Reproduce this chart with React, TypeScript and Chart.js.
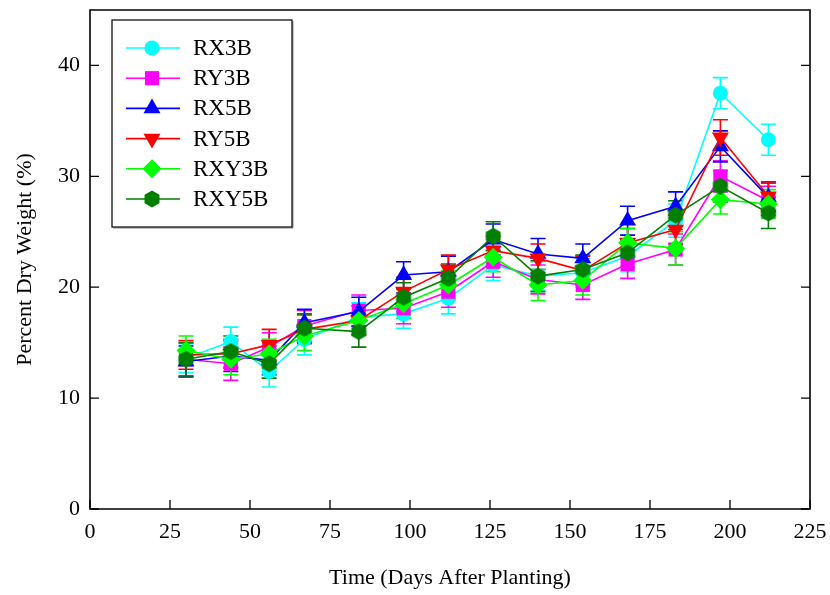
import React, { useEffect, useRef } from "react";
import { Chart, registerables } from "chart.js";

Chart.register(...registerables);

const days = [30, 44, 56, 67, 84, 98, 112, 126, 140, 154, 168, 183, 197, 212];

const rx3b = [13.6, 15.1, 12.4, 15.3, 17.3, 17.6, 19.0, 22.0, 21.0, 21.3, 22.8, 26.0, 37.5, 33.3];
const rx3bErr = [1.3, 1.3, 1.4, 1.4, 1.3, 1.3, 1.4, 1.4, 1.3, 1.3, 1.4, 1.5, 1.4, 1.4];

const ry3b = [13.5, 13.1, 14.6, 16.5, 17.9, 18.1, 19.6, 22.3, 20.7, 20.2, 22.1, 23.4, 30.0, 27.8];
const ry3bErr = [1.5, 1.5, 1.3, 1.4, 1.4, 1.4, 1.4, 1.4, 1.3, 1.3, 1.3, 1.4, 1.4, 1.3];

const rx5b = [13.3, 13.8, 13.4, 16.8, 17.8, 21.1, 21.4, 24.3, 23.0, 22.6, 26.0, 27.3, 32.7, 28.1];
const rx5bErr = [1.4, 1.4, 1.3, 1.2, 1.3, 1.2, 1.4, 1.4, 1.4, 1.3, 1.3, 1.3, 1.4, 1.3];

const ry5b = [13.9, 14.0, 14.8, 16.2, 17.0, 19.6, 21.6, 23.3, 22.6, 21.5, 24.0, 25.2, 33.5, 28.2];
const ry5bErr = [1.3, 1.3, 1.4, 1.3, 1.3, 1.3, 1.3, 1.3, 1.3, 1.3, 1.3, 1.3, 1.6, 1.3];

const rxy3b = [14.3, 13.5, 14.0, 15.6, 17.0, 18.5, 20.2, 22.7, 20.2, 20.6, 24.0, 23.5, 27.9, 27.5];
const rxy3bErr = [1.3, 1.4, 1.3, 1.3, 1.3, 1.3, 1.3, 1.3, 1.4, 1.3, 1.3, 1.5, 1.3, 1.3];

const rxy5b = [13.5, 14.2, 13.1, 16.3, 16.0, 19.1, 20.8, 24.6, 21.0, 21.6, 23.1, 26.5, 29.1, 26.7];
const rxy5bErr = [1.5, 1.4, 1.3, 1.3, 1.4, 1.3, 1.3, 1.3, 1.4, 1.3, 1.3, 1.3, 1.4, 1.4];

const seriesNames = ["RX3B", "RY3B", "RX5B", "RY5B", "RXY3B", "RXY5B"];
const seriesValues = [rx3b, ry3b, rx5b, ry5b, rxy3b, rxy5b];
const seriesErrors = [rx3bErr, ry3bErr, rx5bErr, ry5bErr, rxy3bErr, rxy5bErr];
const seriesColors = ["#00FFFF", "#FF00FF", "#0000FF", "#FF0000", "#00FF00", "#007F00"];
const seriesMarkers = ["circle", "rect", "triangle", "triangleDown", "rectRot", "hexagon"];

const xTicks = [0, 25, 50, 75, 100, 125, 150, 175, 200, 225];
const yTicks = [0, 10, 20, 30, 40];

const FONT = "'Liberation Serif', 'Times New Roman', serif";

function makeHexagon(color: string): HTMLCanvasElement {
  const c = document.createElement("canvas");
  c.width = 18;
  c.height = 18;
  const ctx = c.getContext("2d")!;
  const r = 8.6;
  ctx.beginPath();
  for (let i = 0; i < 6; i++) {
    const a = -Math.PI / 2 + (i * Math.PI) / 3;
    const px = 9 + r * Math.cos(a);
    const py = 9 + r * Math.sin(a);
    if (i === 0) ctx.moveTo(px, py);
    else ctx.lineTo(px, py);
  }
  ctx.closePath();
  ctx.fillStyle = color;
  ctx.fill();
  return c;
}

function markerProps(kind: string, color: string) {
  switch (kind) {
    case "circle":
      return { pointStyle: "circle", pointRadius: 7.5, pointRotation: 0 };
    case "rect":
      return { pointStyle: "rect", pointRadius: 10, pointRotation: 0 };
    case "triangle":
      return { pointStyle: "triangle", pointRadius: 9.8, pointRotation: 0 };
    case "triangleDown":
      return { pointStyle: "triangle", pointRadius: 9.8, pointRotation: 180 };
    case "rectRot":
      return { pointStyle: "rectRot", pointRadius: 9.5, pointRotation: 0 };
    default:
      return { pointStyle: makeHexagon(color), pointRadius: 8.6, pointRotation: 0 };
  }
}

function drawLegendMarker(ctx: CanvasRenderingContext2D, kind: string, x: number, y: number, color: string, img: any) {
  ctx.save();
  ctx.fillStyle = color;
  ctx.beginPath();
  if (kind === "circle") {
    ctx.arc(x, y, 7.5, 0, Math.PI * 2);
  } else if (kind === "rect") {
    const s = 7.07;
    ctx.rect(x - s, y - s, 2 * s, 2 * s);
  } else if (kind === "triangle" || kind === "triangleDown") {
    const r = 9.8;
    const dir = kind === "triangle" ? 1 : -1;
    ctx.moveTo(x, y - dir * r);
    ctx.lineTo(x + r * Math.sin((2 * Math.PI) / 3), y - dir * r * Math.cos((2 * Math.PI) / 3));
    ctx.lineTo(x - r * Math.sin((2 * Math.PI) / 3), y - dir * r * Math.cos((2 * Math.PI) / 3));
    ctx.closePath();
  } else if (kind === "rectRot") {
    const r = 9.5;
    ctx.moveTo(x, y - r);
    ctx.lineTo(x + r, y);
    ctx.lineTo(x, y + r);
    ctx.lineTo(x - r, y);
    ctx.closePath();
  } else if (img) {
    ctx.drawImage(img, x - img.width / 2, y - img.height / 2);
    ctx.restore();
    return;
  }
  ctx.fill();
  ctx.restore();
}

const errorBarPlugin = {
  id: "errorBars",
  beforeDatasetsDraw(chart: any) {
    const ctx = chart.ctx;
    const xs = chart.scales.x;
    const ys = chart.scales.y;
    const n = chart.data.datasets.length;
    for (let d = 0; d < n; d++) {
      const ds = chart.data.datasets[d];
      const errs = ds.errors as number[];
      ctx.save();
      ctx.strokeStyle = ds.borderColor;
      ctx.lineWidth = 1.6;
      ds.data.forEach((p: any, i: number) => {
        const x = xs.getPixelForValue(p.x);
        const yt = ys.getPixelForValue(p.y + errs[i]);
        const yb = ys.getPixelForValue(p.y - errs[i]);
        ctx.beginPath();
        ctx.moveTo(x, yt);
        ctx.lineTo(x, yb);
        ctx.moveTo(x - 7.5, yt);
        ctx.lineTo(x + 7.5, yt);
        ctx.moveTo(x - 7.5, yb);
        ctx.lineTo(x + 7.5, yb);
        ctx.stroke();
      });
      ctx.restore();
    }
  },
};

const framePlugin = {
  id: "frameTicks",
  afterDatasetsDraw(chart: any) {
    const ctx = chart.ctx;
    const { left, right, top, bottom } = chart.chartArea;
    const xs = chart.scales.x;
    const ys = chart.scales.y;
    ctx.save();
    ctx.strokeStyle = "#000";
    ctx.lineWidth = 1.6;
    ctx.beginPath();
    ctx.rect(left, top, right - left, bottom - top);
    ctx.stroke();
    ctx.lineWidth = 1.3;
    ctx.beginPath();
    xTicks.forEach((v) => {
      const x = xs.getPixelForValue(v);
      ctx.moveTo(x, bottom);
      ctx.lineTo(x, bottom - 9);
    });
    yTicks.forEach((v) => {
      const y = ys.getPixelForValue(v);
      ctx.moveTo(left, y);
      ctx.lineTo(left + 9, y);
      ctx.moveTo(right, y);
      ctx.lineTo(right - 9, y);
    });
    ctx.stroke();
    ctx.restore();
  },
  afterDraw(chart: any) {
    const ctx = chart.ctx;
    const bx = 112, by = 20, bw = 180, bh = 207;
    ctx.save();
    ctx.fillStyle = "#fff";
    ctx.fillRect(bx, by, bw, bh);
    ctx.strokeStyle = "#888";
    ctx.lineWidth = 1;
    ctx.beginPath();
    ctx.moveTo(bx + bw + 1, by + 1);
    ctx.lineTo(bx + bw + 1, by + bh + 1);
    ctx.lineTo(bx + 1, by + bh + 1);
    ctx.stroke();
    ctx.strokeStyle = "#000";
    ctx.lineWidth = 1.2;
    ctx.strokeRect(bx, by, bw, bh);
    chart.data.datasets.forEach((ds: any, i: number) => {
      const y = 48 + i * 30.2;
      ctx.strokeStyle = ds.borderColor;
      ctx.lineWidth = 1.6;
      ctx.beginPath();
      ctx.moveTo(126, y);
      ctx.lineTo(180, y);
      ctx.stroke();
      drawLegendMarker(ctx, seriesMarkers[i], 152, y, ds.borderColor, ds.pointStyle);
      ctx.fillStyle = "#000";
      ctx.font = `23px ${FONT}`;
      ctx.textAlign = "left";
      ctx.textBaseline = "middle";
      ctx.fillText(ds.label, 193, y + 1);
    });
    ctx.restore();
  },
};

function zeroPad(s: any) {
  s.paddingTop = 0;
  s.paddingBottom = 0;
  s.paddingLeft = 0;
  s.paddingRight = 0;
}

export default function App() {
  const ref = useRef<HTMLCanvasElement | null>(null);

  useEffect(() => {
    if (!ref.current) return;
    const datasets = seriesNames.map((name, i) => {
      const mp = markerProps(seriesMarkers[i], seriesColors[i]);
      return {
        label: name,
        data: days.map((d, j) => ({ x: d, y: seriesValues[i][j] })),
        errors: seriesErrors[i],
        borderColor: seriesColors[i],
        backgroundColor: seriesColors[i],
        pointBackgroundColor: seriesColors[i],
        pointBorderColor: seriesColors[i],
        pointBorderWidth: 0,
        borderWidth: 1.6,
        tension: 0,
        order: seriesNames.length - i,
        ...mp,
      };
    });
    const chart = new Chart(ref.current, {
      type: "line",
      data: { datasets } as any,
      options: {
        animation: false,
        responsive: false,
        maintainAspectRatio: false,
        events: [],
        layout: { padding: { left: 0, right: 20, top: 6, bottom: 0 } },
        plugins: { legend: { display: false }, tooltip: { enabled: false } },
        scales: {
          x: {
            type: "linear",
            min: 0,
            max: 225,
            afterBuildTicks: (s: any) => {
              s.ticks = xTicks.map((v) => ({ value: v }));
            },
            afterFit: (s: any) => {
              s.height = 86;
              zeroPad(s);
            },
            grid: { display: false, drawTicks: false },
            border: { display: false },
            ticks: {
              color: "#000",
              padding: 10,
              maxRotation: 0,
              autoSkip: false,
              font: { family: FONT, size: 22 },
            },
            title: {
              display: true,
              text: "Time (Days After Planting)",
              color: "#000",
              font: { family: FONT, size: 22 },
              padding: { top: 0, bottom: 4 },
            },
          },
          y: {
            type: "linear",
            min: 0,
            max: 45,
            afterBuildTicks: (s: any) => {
              s.ticks = yTicks.map((v) => ({ value: v }));
            },
            afterFit: (s: any) => {
              s.width = 90;
              zeroPad(s);
            },
            grid: { display: false, drawTicks: false },
            border: { display: false },
            ticks: {
              color: "#000",
              padding: 10,
              autoSkip: false,
              font: { family: FONT, size: 22 },
            },
            title: {
              display: true,
              text: "Percent Dry Weight (%)",
              color: "#000",
              font: { family: FONT, size: 22 },
              padding: { top: 12, bottom: 0 },
            },
          },
        },
      } as any,
      plugins: [errorBarPlugin, framePlugin],
    });
    return () => chart.destroy();
  }, []);

  return (
    <div style={{ position: "absolute", left: 0, top: 0, width: 830, height: 595, background: "#fff" }}>
      <canvas ref={ref} width={830} height={595} style={{ width: 830, height: 595, display: "block" }} />
    </div>
  );
}
